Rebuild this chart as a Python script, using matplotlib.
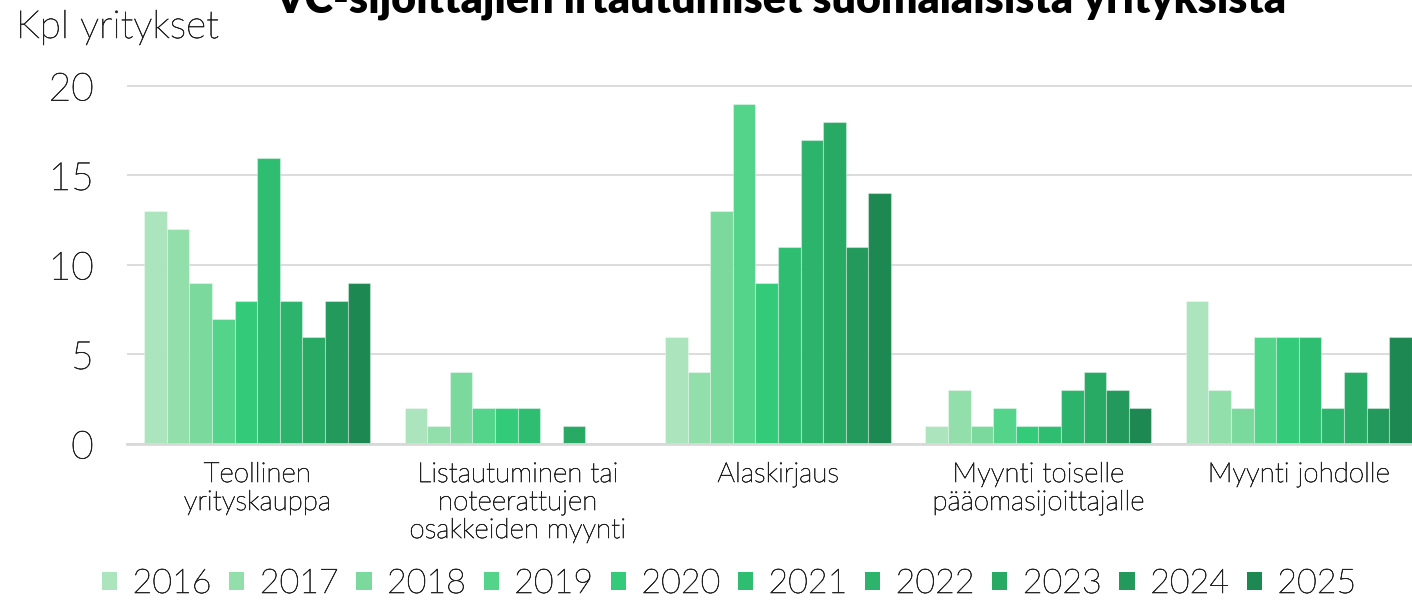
import matplotlib
matplotlib.use("Agg")
import matplotlib.pyplot as plt
import matplotlib.patheffects as pe
import numpy as np

plt.rcParams['font.family'] = ['Lato', 'DejaVu Sans']

categories = ["Teollinen\nyrityskauppa",
              "Listautuminen tai\nnoteerattujen\nosakkeiden myynti",
              "Alaskirjaus",
              "Myynti toiselle\npääomasijoittajalle",
              "Myynti johdolle"]
years = ["2016", "2017", "2018", "2019", "2020", "2021", "2022", "2023", "2024", "2025"]
values = {
    "2016": [13, 2, 6, 1, 8],
    "2017": [12, 1, 4, 3, 3],
    "2018": [9, 4, 13, 1, 2],
    "2019": [7, 2, 19, 2, 6],
    "2020": [8, 2, 9, 1, 6],
    "2021": [16, 2, 11, 1, 6],
    "2022": [8, 0, 17, 3, 2],
    "2023": [6, 1, 18, 4, 4],
    "2024": [8, 0, 11, 3, 2],
    "2025": [9, 0, 14, 2, 6],
}
colors = ["#abe4bd", "#92dfab", "#7bd99e", "#53d48a", "#33cb79",
          "#2ebd71", "#2db46c", "#28a964", "#23995c", "#1e8852"]
title = "VC-sijoittajien irtautumiset suomalaisista yrityksistä"
ylabel = "Kpl yritykset"

TXT = "#222222"
WT = "light"
EFF = [pe.withStroke(linewidth=0.45, foreground=TXT)]
W, H = 1412, 600
fig = plt.figure(figsize=(W / 100, H / 100), dpi=100)
left_px, right_px = 127, 1429
bottom_px, top_px = 444, 82.4
ax = fig.add_axes([left_px / W, (H - bottom_px) / H,
                   (right_px - left_px) / W, (bottom_px - top_px) / H])

x = np.arange(len(categories))
bw = 0.0868
n = len(years)
for i, (yr, c) in enumerate(zip(years, colors)):
    offs = (i - (n - 1) / 2) * bw
    ax.bar(x + offs, values[yr], width=bw, color=c, label=yr,
           edgecolor=(1, 1, 1, 0.35), linewidth=0.8, zorder=3)

ax.set_xlim(-0.5, len(categories) - 0.5)
ax.set_ylim(0, 20.2)
ax.set_yticks([0, 5, 10, 15, 20])
ax.yaxis.grid(True, color="#d9d9d9", linewidth=1.3, zorder=0)
ax.set_axisbelow(True)
for s in ["top", "right", "left"]:
    ax.spines[s].set_visible(False)
ax.spines["bottom"].set_color("#d9d9d9")
ax.spines["bottom"].set_linewidth(2)
ax.spines["bottom"].set_zorder(4)
ax.tick_params(axis="y", length=0, pad=24, labelsize=28, labelcolor=TXT)
ax.tick_params(axis="x", length=0, pad=13, labelsize=20, labelcolor=TXT)
ax.set_xticks(x)
ax.set_xticklabels(categories, linespacing=1.15)
for lab in ax.get_yticklabels() + ax.get_xticklabels():
    lab.set_fontweight(WT)
    lab.set_path_effects(EFF)

fig.text(16 / W, 1 - 27 / H, ylabel, fontsize=28, color=TXT,
         fontweight=WT, va="center", ha="left", path_effects=EFF)
fig.text(781 / W, 1 - 13 / H, title, fontsize=31, fontweight="heavy",
         color="black", ha="center", va="baseline")

leg = fig.legend(loc="center", bbox_to_anchor=(729 / W, 1 - 584 / H), ncol=10,
                 frameon=False, fontsize=24.5, handlelength=0.45, handleheight=0.45,
                 handletextpad=0.45, columnspacing=0.52, borderaxespad=0)
for t in leg.get_texts():
    t.set_color(TXT)
    t.set_fontweight(WT)
    t.set_path_effects(EFF)
for h in leg.legend_handles:
    h.set_edgecolor("none")

fig.savefig("out.png", dpi=100)
